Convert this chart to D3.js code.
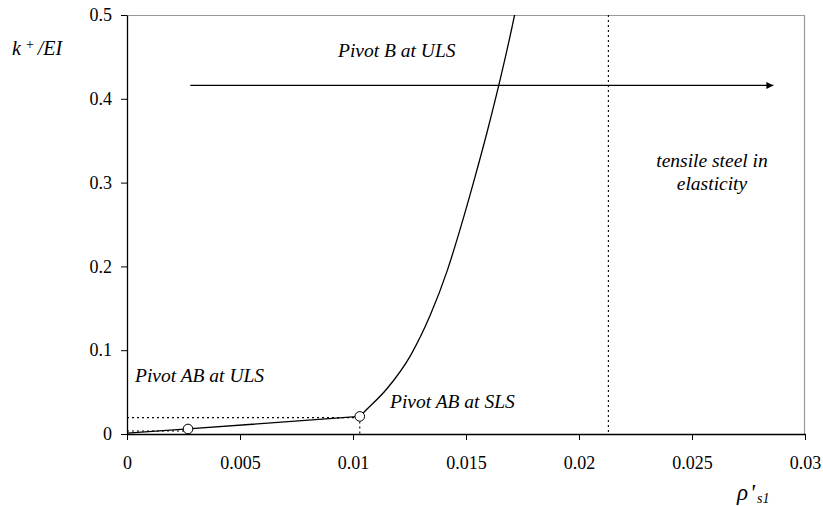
<!DOCTYPE html>
<html>
<head>
<meta charset="utf-8">
<script src="https://cdn.jsdelivr.net/npm/d3@7"></script>
<style>
  html, body { margin: 0; padding: 0; background: #fff; }
  svg { display: block; }
  svg text { font-family: 'Liberation Serif', 'DejaVu Serif', serif !important; fill: #000; }
</style>
</head>
<body>
<svg id="chart" width="823" height="506"></svg>
<script>
// Axis ticks
const xTicks = [0, 0.005, 0.01, 0.015, 0.02, 0.025, 0.03];
const xTickLabels = ["0", "0.005", "0.01", "0.015", "0.02", "0.025", "0.03"];
const yTicks = [0, 0.1, 0.2, 0.3, 0.4, 0.5];
const yTickLabels = ["0", "0.1", "0.2", "0.3", "0.4", "0.5"];

// Pivot AB branch (straight segments): origin -> ULS point -> SLS point
const rhoAB = [0, 0.0027, 0.0103];
const kAB   = [0.001, 0.006, 0.021];

// Pivot B branch (curved), starting from the SLS point
const rhoB = [0.0103, 0.01054, 0.0115, 0.01253, 0.01342, 0.01417, 0.01479, 0.01536, 0.01594, 0.01652, 0.01715, 0.01749];
const kB   = [0.021, 0.0275, 0.054, 0.093, 0.142, 0.195, 0.249, 0.303, 0.361, 0.424, 0.500, 0.546];

// Marked points (circles)
const markRho = [0.0027, 0.0103];
const markK   = [0.006, 0.021];

// Reference levels
const guideKLow = 0.0036;     // dotted level up to first marker
const guideKHigh = 0.0195;    // dotted level up to second marker
const rhoElastic = 0.0213;    // limit of tensile steel elasticity
const arrowK = 0.416;
const arrowRho = [0.0028, 0.0286];

(function () {
const svg = d3.select("#chart");
const pL = 127, pR = 805, pT = 15, pB = 434;
const serif = "'Liberation Serif', 'DejaVu Serif', serif";

const x = d3.scaleLinear().domain([0, 0.03]).range([pL, pR]);
const y = d3.scaleLinear().domain([0, 0.5]).range([pB, pT]);

const defs = svg.append("defs");
defs.append("clipPath").attr("id", "plotClip")
  .append("rect").attr("x", pL).attr("y", pT)
  .attr("width", pR - pL).attr("height", pB - pT);

defs.append("marker")
  .attr("id", "arrowHead").attr("viewBox", "0 0 10 10")
  .attr("refX", 10).attr("refY", 5)
  .attr("markerWidth", 9).attr("markerHeight", 7)
  .attr("markerUnits", "userSpaceOnUse")
  .attr("orient", "auto")
  .append("path").attr("d", "M0,0 L10,5 L0,10 z").attr("fill", "#000");

// plot frame: gray top and right edges
svg.append("line").attr("x1", pL).attr("x2", pR).attr("y1", pT + 0.5).attr("y2", pT + 0.5)
  .attr("stroke", "#999").attr("stroke-width", 1.2);
svg.append("line").attr("x1", pR - 0.5).attr("x2", pR - 0.5).attr("y1", pT).attr("y2", pB)
  .attr("stroke", "#999").attr("stroke-width", 1.2);

// axes
const xAxis = d3.axisBottom(x).tickValues(xTicks)
  .tickFormat((d, i) => xTickLabels[i]).tickSize(6).tickSizeOuter(0);
const yAxis = d3.axisLeft(y).tickValues(yTicks)
  .tickFormat((d, i) => yTickLabels[i]).tickSize(6).tickSizeOuter(0);

const gx = svg.append("g").attr("transform", `translate(0,${pB})`).call(xAxis)
  .attr("font-family", serif);
gx.select(".domain").attr("stroke", "#000").attr("stroke-width", 1.3);
gx.selectAll(".tick line").attr("stroke", "#000");
gx.selectAll(".tick text").attr("font-size", 18).attr("dy", "1.44em")
  .style("font-family", serif);

const gy = svg.append("g").attr("transform", `translate(${pL},0)`).call(yAxis)
  .attr("font-family", serif);
gy.select(".domain").attr("stroke", "#000").attr("stroke-width", 1.3);
gy.selectAll(".tick line").attr("stroke", "#000");
gy.selectAll(".tick text").attr("font-size", 18).attr("x", -15)
  .style("font-family", serif);

// dotted guides
function dottedLine(x1, y1, x2, y2) {
  return svg.append("line").attr("x1", x1).attr("y1", y1).attr("x2", x2).attr("y2", y2)
    .attr("stroke", "#000").attr("stroke-width", 1.1).attr("stroke-dasharray", "2,3");
}
dottedLine(x(rhoElastic), y(0.5), x(rhoElastic), y(0));
dottedLine(x(0), y(guideKHigh), x(markRho[1]), y(guideKHigh));
dottedLine(x(0), y(guideKLow), x(markRho[0]), y(guideKLow));
dottedLine(x(markRho[1]), y(markK[1]), x(markRho[1]), y(0));

// Pivot AB branch
const lineAB = d3.line().x(d => x(d[0])).y(d => y(d[1]));
svg.append("path").datum(d3.zip(rhoAB, kAB))
  .attr("d", lineAB).attr("fill", "none").attr("stroke", "#000").attr("stroke-width", 1.3);

// Pivot B branch
const lineB = d3.line().x(d => x(d[0])).y(d => y(d[1])).curve(d3.curveMonotoneX);
svg.append("path").datum(d3.zip(rhoB, kB))
  .attr("clip-path", "url(#plotClip)")
  .attr("d", lineB).attr("fill", "none").attr("stroke", "#000").attr("stroke-width", 1.3);

// markers
svg.selectAll("circle.mark").data(d3.zip(markRho, markK)).join("circle")
  .attr("class", "mark")
  .attr("cx", d => x(d[0])).attr("cy", d => y(d[1])).attr("r", 4.8)
  .attr("fill", "#fff").attr("stroke", "#000").attr("stroke-width", 1);

// arrow
svg.append("line")
  .attr("x1", x(arrowRho[0])).attr("x2", x(arrowRho[1]))
  .attr("y1", y(arrowK)).attr("y2", y(arrowK))
  .attr("stroke", "#000").attr("stroke-width", 1.4)
  .attr("marker-end", "url(#arrowHead)");

// annotations
function note(txt, px, py, anchor) {
  svg.append("text").attr("x", px).attr("y", py)
    .style("font-family", serif)
    .attr("font-size", 19.5).attr("font-style", "italic")
    .attr("text-anchor", anchor || "start").text(txt);
}
note("Pivot B at ULS", 338, 57);
note("tensile steel in", 712, 167, "middle");
note("elasticity", 712, 190, "middle");
note("Pivot AB at ULS", 135, 382);
note("Pivot AB at SLS", 390, 408);

// y axis title: k+/EI
const yt = svg.append("text").attr("x", 12).attr("y", 55).style("font-family", serif)
  .attr("font-size", 20).attr("font-style", "italic");
yt.append("tspan").text("k");
yt.append("tspan").attr("dy", -6).attr("dx", 5).attr("font-size", 14).attr("font-style", "normal").text("+");
yt.append("tspan").attr("dy", 6).attr("dx", 4).text("/EI");

// x axis title: rho'_s1
const xt = svg.append("text").attr("x", 737).attr("y", 500).style("font-family", serif)
  .attr("font-size", 23).attr("font-style", "italic");
xt.append("tspan").text("ρ");
xt.append("tspan").attr("dx", 2).text("'");
xt.append("tspan").attr("dy", 3).attr("dx", 2).attr("font-size", 14).text("s1");
})();
</script>
</body>
</html>
